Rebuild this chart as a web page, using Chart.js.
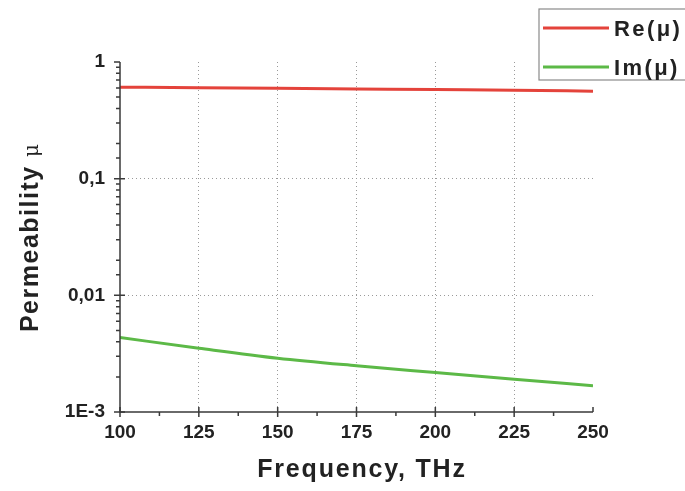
<!DOCTYPE html>
<html>
<head>
<meta charset="utf-8">
<script src="https://cdn.jsdelivr.net/npm/chart.js@4.4.0/dist/chart.umd.min.js"></script>
<style>
  html, body { margin: 0; padding: 0; background: #ffffff; }
  #wrap { width: 685px; height: 491px; }
</style>
</head>
<body>
<div id="wrap"><canvas id="permChart"></canvas></div>
<script>
// values
const frequencies = [100, 125, 150, 175, 200, 225, 250];
const reMu = [0.608, 0.603, 0.596, 0.588, 0.580, 0.573, 0.562];
const imMu = [0.00435, 0.00352, 0.00289, 0.00249, 0.00218, 0.00191, 0.00168];

const xTickValues = [100, 125, 150, 175, 200, 225, 250];
const yTickValues = [0.001, 0.01, 0.1, 1];
const yTickLabels = ['1E-3', '0,01', '0,1', '1'];

const xTitle = 'Frequency, THz';
const yTitle = 'Permeability ';
const yTitleSymbol = '\u03bc';

const axisColor = '#3a3a3a';
const textColor = '#222222';
const fontFamily = "'Liberation Sans', Arial, sans-serif";

function isMajorY(v) {
    return yTickValues.some(t => Math.abs(Math.log10(v) - Math.log10(t)) < 1e-6);
}

// axis lines, tick marks, titles and the legend box are drawn by hand
const axesAndLegend = {
    id: 'axesAndLegend',
    afterDraw(chart) {
        const { ctx, chartArea, scales } = chart;
        const x = scales.x, y = scales.y;
        ctx.save();
        ctx.strokeStyle = axisColor;
        ctx.lineWidth = 1.5;
        ctx.setLineDash([]);

        // axis lines
        ctx.beginPath();
        ctx.moveTo(chartArea.left, chartArea.top);
        ctx.lineTo(chartArea.left, chartArea.bottom);
        ctx.lineTo(chartArea.right, chartArea.bottom);
        ctx.stroke();

        // x ticks
        ctx.beginPath();
        x.ticks.forEach(t => {
            const px = x.getPixelForValue(t.value);
            if (xTickValues.includes(t.value)) {
                ctx.moveTo(px, chartArea.bottom - 5);
                ctx.lineTo(px, chartArea.bottom + (t.value === 250 ? 0 : 5));
            } else {
                ctx.moveTo(px, chartArea.bottom);
                ctx.lineTo(px, chartArea.bottom + 4);
            }
        });
        // y ticks
        y.ticks.forEach(t => {
            const py = y.getPixelForValue(t.value);
            if (isMajorY(t.value)) {
                ctx.moveTo(chartArea.left - 6, py);
                ctx.lineTo(chartArea.left + (t.value === 1 ? 0 : 5), py);
            } else {
                ctx.moveTo(chartArea.left - 4, py);
                ctx.lineTo(chartArea.left, py);
            }
        });
        ctx.stroke();

        // axis titles, slightly spaced out like the original
        ctx.fillStyle = textColor;
        ctx.textBaseline = 'alphabetic';
        ctx.textAlign = 'left';
        ctx.font = 'bold 25px ' + fontFamily;
        ctx.letterSpacing = '1.8px';
        const xw = ctx.measureText(xTitle).width;
        ctx.fillText(xTitle, 362 - xw / 2, 477);

        ctx.save();
        ctx.translate(38, 238);
        ctx.rotate(-Math.PI / 2);
        ctx.font = 'bold 25px ' + fontFamily;
        ctx.letterSpacing = '1.5px';
        const w1 = ctx.measureText(yTitle).width;
        ctx.letterSpacing = '0px';
        ctx.font = '20px "DejaVu Serif", serif';
        const w2 = ctx.measureText(yTitleSymbol).width;
        const start = -(w1 + w2) / 2;
        ctx.font = 'bold 25px ' + fontFamily;
        ctx.letterSpacing = '1.5px';
        ctx.fillText(yTitle, start, 0);
        ctx.letterSpacing = '0px';
        ctx.font = '20px "DejaVu Serif", serif';
        ctx.fillText(yTitleSymbol, start + w1, 0);
        ctx.restore();

        // legend
        ctx.strokeStyle = '#8a8a8a';
        ctx.lineWidth = 1.2;
        ctx.strokeRect(539, 9, 160, 71);
        const rows = [28, 67];
        ctx.font = 'bold 22px ' + fontFamily;
        ctx.letterSpacing = '2.4px';
        ctx.textBaseline = 'middle';
        ctx.textAlign = 'left';
        chart.data.datasets.forEach((ds, i) => {
            ctx.strokeStyle = ds.borderColor;
            ctx.lineWidth = 3;
            ctx.beginPath();
            ctx.moveTo(543, rows[i]);
            ctx.lineTo(609, rows[i]);
            ctx.stroke();
            ctx.fillStyle = textColor;
            ctx.fillText(ds.label, 614, rows[i] + 2);
        });
        ctx.restore();
    }
};

new Chart(document.getElementById('permChart'), {
    type: 'line',
    data: {
        labels: frequencies,
        datasets: [{
            label: 'Re(\u03bc)',
            data: frequencies.map((f, i) => ({ x: f, y: reMu[i] })),
            borderColor: '#e4433b',
            borderWidth: 3,
            pointRadius: 0,
            tension: 0.4,
            cubicInterpolationMode: 'monotone'
        }, {
            label: 'Im(\u03bc)',
            data: frequencies.map((f, i) => ({ x: f, y: imMu[i] })),
            borderColor: '#5cb947',
            borderWidth: 3,
            pointRadius: 0,
            tension: 0.4,
            cubicInterpolationMode: 'monotone'
        }]
    },
    options: {
        responsive: true,
        maintainAspectRatio: false,
        animation: false,
        events: [],
        layout: {
            padding: { left: 0, top: 62, right: 92, bottom: 0 }
        },
        plugins: {
            legend: { display: false },
            tooltip: { enabled: false }
        },
        scales: {
            x: {
                type: 'linear',
                min: 100,
                max: 250,
                afterFit: (scale) => { scale.height = 79; },
                afterBuildTicks: (scale) => {
                    const ticks = [];
                    for (let v = 100; v <= 250; v += 12.5) ticks.push({ value: v });
                    scale.ticks = ticks;
                },
                grid: {
                    drawTicks: false,
                    lineWidth: 1,
                    color: (c) => {
                        const v = c.tick && c.tick.value;
                        return (xTickValues.includes(v) && v !== 100 && v !== 250) ? '#9a9a9a' : 'rgba(0,0,0,0)';
                    }
                },
                border: { display: false, dash: [1, 3] },
                ticks: {
                    autoSkip: false,
                    maxRotation: 0,
                    padding: 9,
                    color: textColor,
                    font: { family: fontFamily, size: 19, weight: 'bold' },
                    callback: (v) => xTickValues.includes(v) ? String(v) : ''
                }
            },
            y: {
                type: 'logarithmic',
                min: 0.001,
                max: 1,
                afterFit: (scale) => { scale.width = 120; },
                grid: {
                    drawTicks: false,
                    lineWidth: 1,
                    color: (c) => {
                        const v = c.tick && c.tick.value;
                        return (v && isMajorY(v) && v !== 1 && v !== 0.001) ? '#9a9a9a' : 'rgba(0,0,0,0)';
                    }
                },
                border: { display: false, dash: [1, 3] },
                ticks: {
                    autoSkip: false,
                    padding: 15,
                    color: textColor,
                    font: { family: fontFamily, size: 19, weight: 'bold' },
                    callback: (v) => {
                        const idx = yTickValues.findIndex(t => Math.abs(Math.log10(v) - Math.log10(t)) < 1e-6);
                        return idx >= 0 ? yTickLabels[idx] : '';
                    }
                }
            }
        }
    },
    plugins: [axesAndLegend]
});
</script>
</body>
</html>
